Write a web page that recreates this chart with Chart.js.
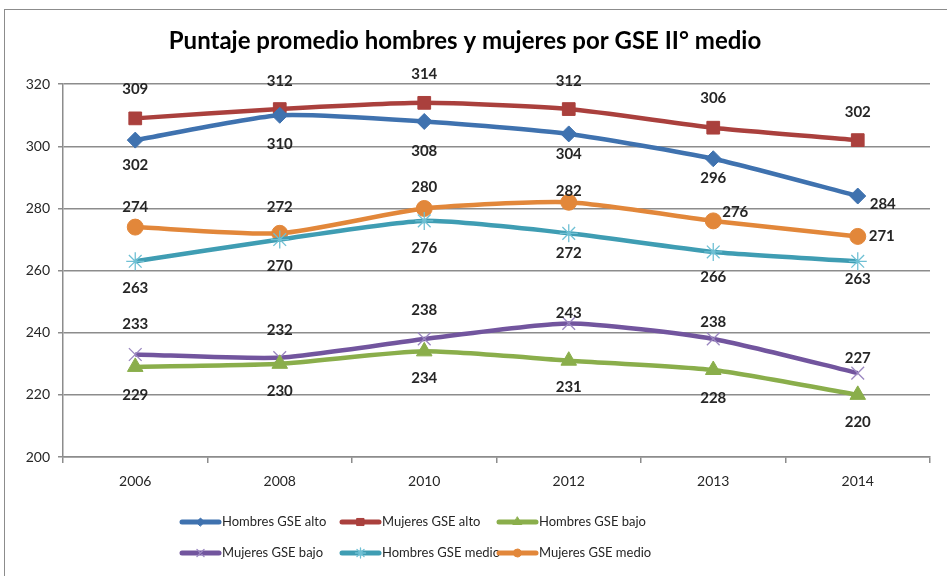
<!DOCTYPE html>
<html>
<head>
<meta charset="utf-8">
<script src="https://cdn.jsdelivr.net/npm/chart.js@4.4.1/dist/chart.umd.min.js"></script>
<style>
  html, body { margin: 0; padding: 0; background: #fff; overflow: hidden; }
  #wrap { position: relative; width: 947px; height: 576px; }
  #frame { position: absolute; left: 4px; top: 9px; width: 1000px; height: 1000px;
           border: 1.5px solid #8c8c8c; box-sizing: border-box; pointer-events: none; }
  canvas { position: absolute; left: 0; top: 0; }
</style>
</head>
<body>
<div id="wrap">
  <canvas id="gse-chart" width="947" height="576"></canvas>
  <div id="frame"></div>
</div>
<script>
/* ---- data ---- */
var YEARS = ['2006', '2008', '2010', '2012', '2013', '2014'];

var HOMBRES_ALTO  = [302, 310, 308, 304, 296, 284];
var MUJERES_ALTO  = [309, 312, 314, 312, 306, 302];
var HOMBRES_BAJO  = [229, 230, 234, 231, 228, 220];
var MUJERES_BAJO  = [233, 232, 238, 243, 238, 227];
var HOMBRES_MEDIO = [263, 270, 276, 272, 266, 263];
var MUJERES_MEDIO = [274, 272, 280, 282, 276, 271];

var SERIES_NAMES = ['Hombres GSE alto', 'Mujeres GSE alto', 'Hombres GSE bajo',
                    'Mujeres GSE bajo', 'Hombres GSE medio', 'Mujeres GSE medio'];

var Y_MIN = 200, Y_MAX = 320, Y_STEP = 20;

/* ---- label placement (px, relative to each point), as placed in the original ---- */
var LABEL_OFFSETS = [
    [[0, 25], [0, 29], [0, 30], [0, 20], [0, 19], [25, 8]],
    [[0, -29], [0, -28], [0, -29], [0, -28], [0, -30], [0, -28]],
    [[0, 28], [0, 27], [0, 27], [0, 26], [0, 28], [0, 27]],
    [[0, -30], [0, -27], [0, -29], [0, -10], [0, -17], [0, -15]],
    [[0, 27], [0, 27], [0, 27], [0, 20], [0, 25], [0, 18]],
    [[0, -20], [0, -26], [0, -21], [0, -11], [22, -9], [24, 0]]
];

var FONT = 'Lato, "Open Sans", sans-serif';

function series(i, data, color, style, radius, extra) {
    var ds = {
        label: SERIES_NAMES[i],
        data: data,
        borderColor: color,
        backgroundColor: color,
        borderWidth: 4.5,
        tension: 0.2,
        pointStyle: style,
        pointRadius: radius,
        pointHoverRadius: radius,
        pointBackgroundColor: color,
        pointBorderColor: color,
        pointBorderWidth: 1
    };
    for (var k in extra) ds[k] = extra[k];
    return ds;
}

var datasets = [
    series(0, HOMBRES_ALTO,  '#3f72af', 'rectRot',  8, {}),
    series(1, MUJERES_ALTO,  '#aa403d', 'rect',     9, {}),
    series(2, HOMBRES_BAJO,  '#8aae4b', 'triangle', 9, {}),
    series(3, MUJERES_BAJO,  '#72559e', 'crossRot', 9, { pointBorderColor: '#9a86c0', pointBorderWidth: 1.3 }),
    series(4, HOMBRES_MEDIO, '#3f9db3', 'star',     9, { pointBorderColor: '#6fc0d4', pointBorderWidth: 1.3 }),
    series(5, MUJERES_MEDIO, '#e2873a', 'circle',   8, {})
];

/* value labels next to each point */
var valueLabels = {
    id: 'valueLabels',
    afterDatasetsDraw: function(chart) {
        var ctx = chart.ctx;
        ctx.save();
        ctx.font = 'bold 15px ' + FONT;
        ctx.fillStyle = '#262626';
        ctx.textAlign = 'center';
        ctx.textBaseline = 'middle';
        chart.data.datasets.forEach(function(ds, di) {
            var meta = chart.getDatasetMeta(di);
            meta.data.forEach(function(pt, pi) {
                var off = LABEL_OFFSETS[di][pi];
                ctx.fillText(String(ds.data[pi]), pt.x + off[0], pt.y + off[1]);
            });
        });
        ctx.restore();
    }
};

/* Excel-like legend: short line with the marker in the middle */
var lineLegend = {
    id: 'lineLegend',
    afterDraw: function(chart) {
        var ctx = chart.ctx;
        var cols = [182, 342, 499];
        var rows = [522, 553];
        ctx.save();
        chart.data.datasets.forEach(function(ds, i) {
            var x = cols[i % 3], y = rows[Math.floor(i / 3)];
            ctx.strokeStyle = ds.borderColor;
            ctx.lineWidth = 5;
            ctx.lineCap = 'round';
            ctx.beginPath();
            ctx.moveTo(x, y);
            ctx.lineTo(x + 37, y);
            ctx.stroke();
            ctx.fillStyle = ds.pointBackgroundColor;
            ctx.strokeStyle = ds.pointBorderColor;
            ctx.lineWidth = ds.pointBorderWidth;
            Chart.helpers.drawPoint(ctx, {
                pointStyle: ds.pointStyle,
                radius: Math.max(3, ds.pointRadius - 4),
                borderWidth: ds.pointBorderWidth,
                rotation: 0
            }, x + 18.5, y);
            ctx.fillStyle = '#262626';
            ctx.font = '13px ' + FONT;
            ctx.textAlign = 'left';
            ctx.textBaseline = 'middle';
            ctx.fillText(ds.label, x + 40, y);
        });
        ctx.restore();
    }
};

new Chart(document.getElementById('gse-chart'), {
    type: 'line',
    data: { labels: YEARS, datasets: datasets },
    plugins: [valueLabels, lineLegend],
    options: {
        responsive: false,
        animation: false,
        layout: { padding: { left: 0, right: 17, top: 0, bottom: 0 } },
        plugins: {
            legend: { display: false },
            tooltip: { enabled: false },
            title: {
                display: true,
                text: 'Puntaje promedio hombres y mujeres por GSE II° medio',
                color: '#000',
                font: { family: FONT, size: 24, weight: 'bold' },
                padding: { top: 27, bottom: 28.4 }
            }
        },
        scales: {
            x: {
                offset: true,
                afterFit: function(s) { s.height = 119; },
                grid: {
                    offset: true,
                    drawOnChartArea: false,
                    drawTicks: true,
                    tickLength: 6,
                    color: '#8c8c8c',
                    lineWidth: 1.5
                },
                border: { color: '#8c8c8c', width: 1.5 },
                ticks: {
                    color: '#262626',
                    font: { family: FONT, size: 14 },
                    padding: 10,
                    maxRotation: 0
                }
            },
            y: {
                min: Y_MIN,
                max: Y_MAX,
                afterFit: function(s) { s.width = 63; },
                grid: {
                    color: '#8c8c8c',
                    lineWidth: 1.5,
                    tickLength: 5
                },
                border: { color: '#8c8c8c', width: 1.5 },
                ticks: {
                    stepSize: Y_STEP,
                    color: '#262626',
                    font: { family: FONT, size: 14 },
                    padding: 8
                }
            }
        }
    }
});
</script>
</body>
</html>
